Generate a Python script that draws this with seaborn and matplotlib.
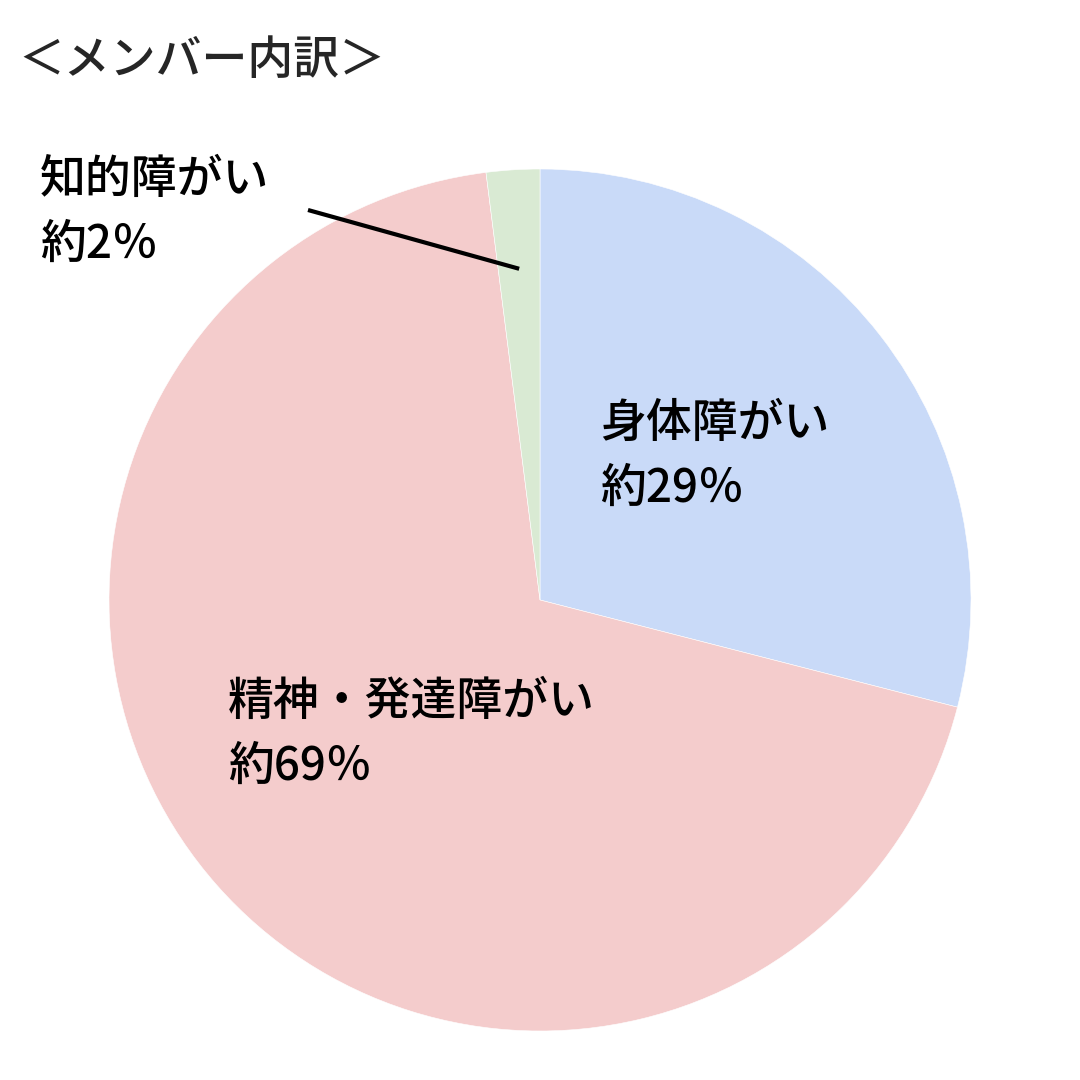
import numpy as np
import matplotlib
matplotlib.use("Agg")
import matplotlib.pyplot as plt
import seaborn as sns

# Member breakdown (share in %)
categories = ["身体障がい", "精神・発達障がい", "知的障がい"]
shares = [29, 69, 2]
label_texts = ["身体障がい\n約29％", "精神・発達障がい\n約69％", "知的障がい\n約2％"]
colors = ["#C9DAF8", "#F4CCCC", "#D9EAD3"]
title = "＜メンバー内訳＞"

sns.set_theme(style="white")
plt.rcParams["font.family"] = ["Noto Sans CJK JP", "DejaVu Sans"]

W = H = 1080
fig = plt.figure(figsize=(W / 100, H / 100), dpi=100)
fig.patch.set_facecolor("white")

# pie axes: centre (540, 600) px, radius 431 px
cx, cy, r = 540, 600, 431
ax = fig.add_axes([(cx - r) / W, (H - cy - r) / H, 2 * r / W, 2 * r / H])

wedges, _ = ax.pie(shares, colors=colors, startangle=90, counterclock=False,
                   radius=1.0, center=(0, 0),
                   wedgeprops=dict(edgecolor="white", linewidth=0.4))
ax.set_xlim(-1, 1)
ax.set_ylim(-1, 1)
ax.set_aspect("equal")
ax.axis("off")

fs = 33
txt = dict(fontsize=fs, color="black", ha="left", va="center",
           linespacing=1.5, fontweight="medium")

def px(x, y):
    return x / W, 1 - y / H

fig.text(*px(18, 60), title, fontsize=fs, ha="left", va="center",
         fontweight="medium")
fig.text(*px(600, 456), label_texts[0], **txt)
fig.text(*px(228, 734), label_texts[1], **txt)
fig.text(*px(40, 212), label_texts[2], **txt)

# leader line to the small slice, ending on the wedge's mid-angle
w = wedges[2]
mid = np.deg2rad((w.theta1 + w.theta2) / 2)
end = (0.77 * np.cos(mid), 0.77 * np.sin(mid))
start = ((308 - cx) / r, (cy - 210) / r)
ax.plot([start[0], end[0]], [start[1], end[1]], color="black", lw=3,
        solid_capstyle="butt", clip_on=False)

fig.savefig("out.png", dpi=100, facecolor="white")
